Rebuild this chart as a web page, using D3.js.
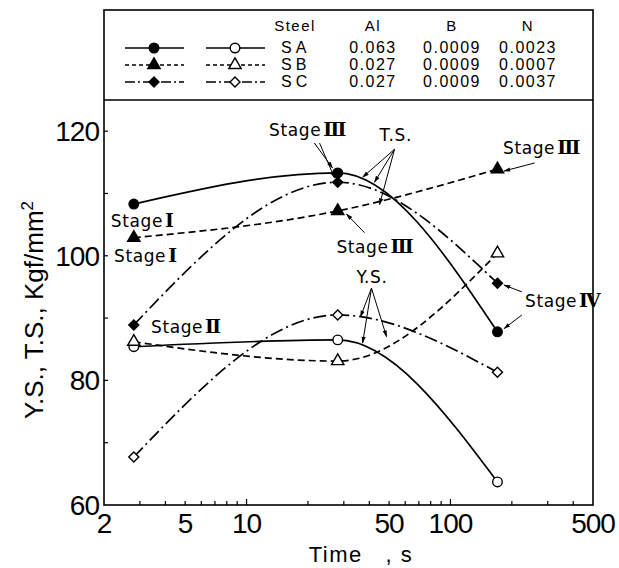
<!DOCTYPE html>
<html>
<head>
<meta charset="utf-8">
<script src="https://cdn.jsdelivr.net/npm/d3@7"></script>
<style>
  body { margin: 0; background: #fff; }
  svg { display: block; }
</style>
</head>
<body>
<div id="chart"></div>
<script>
// data
var times = [2.8, 28, 170];
var steels = ["SA", "SB", "SC"];
var alPct = [0.063, 0.027, 0.027];
var bPct = [0.0009, 0.0009, 0.0009];
var nPct = [0.0023, 0.0007, 0.0037];
var tsSA = [108.3, 113.3, 87.8];
var tsSB = [102.9, 107.2, 113.9];
var tsSC = [88.9, 111.8, 95.6];
var ysSA = [85.4, 86.5, 63.7];
var ysSB = [86.2, 83.1, 100.4];
var ysSC = [67.7, 90.5, 81.3];
var xTickLabels = [2, 5, 10, 50, 100, 500];
var xMinorTicks = [3, 4, 5, 6, 7, 8, 9, 10, 20, 30, 40, 50, 60, 70, 80, 90, 100, 200, 300, 400];
var yTickLabels = [60, 80, 100, 120];
var yMinorTicks = [70, 80, 90, 100, 110, 120];

// annotations, in data units (time, value)
var labels = [
  {text: "Stage", num: "Ⅲ", t: 12.9, v: 119.2},
  {text: "T.S.", num: "", t: 44.9, v: 118.5},
  {text: "Stage", num: "Ⅲ", t: 181, v: 116.3},
  {text: "Stage", num: "Ⅲ", t: 27.6, v: 100.4},
  {text: "Stage", num: "Ⅳ", t: 232, v: 91.8},
  {text: "Stage", num: "Ⅰ", t: 2.16, v: 104.6},
  {text: "Stage", num: "Ⅰ", t: 2.24, v: 99.0},
  {text: "Stage", num: "Ⅱ", t: 3.4, v: 87.6},
  {text: "Y.S.", num: "", t: 34.6, v: 95.6}
];
var arrows = [
  [21.5, 118.1, 26.4, 114.1],
  [22.8, 118.1, 27.0, 112.5],
  [53.2, 117.1, 37.1, 112.6],
  [53.2, 117.1, 42.4, 111.8],
  [53.2, 117.1, 44.9, 108.2],
  [259, 114.9, 183, 113.6],
  [37.9, 103.7, 30.9, 106.7],
  [224, 94.2, 183, 95.3],
  [224, 90.5, 183, 88.3],
  [41, 94.8, 36.2, 90.2],
  [41, 94.8, 37.1, 86.0],
  [41, 94.8, 48.6, 87.0]
];

var W = 619, H = 568;
var pLeft = 104, pRight = 593, pTop = 100, pBottom = 505, boxTop = 10;

var svg = d3.select("#chart").append("svg")
    .attr("width", W)
    .attr("height", H);

var x = d3.scaleLog().domain([2, 500]).range([pLeft, pRight]);
var y = d3.scaleLinear().domain([60, 125]).range([pBottom, pTop]);

var dashes = {solid: null, dash: "7,4", dashdot: "13,4,2,4"};
var series = [
  {v: tsSA, dash: "solid", sym: "circle", fill: "#000"},
  {v: tsSB, dash: "dash", sym: "triangle", fill: "#000"},
  {v: tsSC, dash: "dashdot", sym: "diamond", fill: "#000"},
  {v: ysSA, dash: "solid", sym: "circle", fill: "#fff"},
  {v: ysSB, dash: "dash", sym: "triangle", fill: "#fff"},
  {v: ysSC, dash: "dashdot", sym: "diamond", fill: "#fff"}
];

function symbolPath(name) {
  if (name == "circle") return d3.symbol().type(d3.symbolCircle).size(72)();
  if (name == "triangle") return d3.symbol().type(d3.symbolTriangle).size(66)();
  return d3.symbol().type(d3.symbolSquare).size(50)();
}
function symbolRot(name) { return name == "diamond" ? " rotate(45)" : ""; }

svg.append("defs").append("marker")
    .attr("id", "head")
    .attr("viewBox", "0 0 10 10")
    .attr("refX", 9).attr("refY", 5)
    .attr("markerWidth", 7).attr("markerHeight", 7)
    .attr("orient", "auto")
  .append("path")
    .attr("d", "M0,2L10,5L0,8Z")
    .attr("fill", "#000");

// frame: legend box + plot box
svg.append("rect")
    .attr("x", pLeft).attr("y", boxTop)
    .attr("width", pRight - pLeft).attr("height", pBottom - boxTop)
    .attr("fill", "none").attr("stroke", "#000").attr("stroke-width", 1.6);
svg.append("line")
    .attr("x1", pLeft).attr("x2", pRight).attr("y1", pTop).attr("y2", pTop)
    .attr("stroke", "#000").attr("stroke-width", 1.6);

// ticks, pointing inward
svg.selectAll(".xt").data(xMinorTicks).enter().append("line")
    .attr("x1", function(d) { return x(d); }).attr("x2", function(d) { return x(d); })
    .attr("y1", pBottom).attr("y2", function(d) { return (d == 10 || d == 100) ? pBottom - 6 : pBottom - 4; })
    .attr("stroke", "#000").attr("stroke-width", 1.2);
svg.selectAll(".yt").data(yMinorTicks).enter().append("line")
    .attr("x1", pLeft).attr("x2", pLeft + 4)
    .attr("y1", function(d) { return y(d); }).attr("y2", function(d) { return y(d); })
    .attr("stroke", "#000").attr("stroke-width", 1.2);

svg.selectAll(".xl").data(xTickLabels).enter().append("text")
    .attr("x", function(d) { return x(d); })
    .attr("y", 533)
    .attr("text-anchor", "middle")
    .attr("font-family", "Liberation Sans, sans-serif")
    .attr("font-size", "28px")
    .attr("letter-spacing", "-1px")
    .text(function(d) { return d; });
svg.selectAll(".yl").data(yTickLabels).enter().append("text")
    .attr("x", pLeft - 5)
    .attr("y", function(d) { return y(d) + 10; })
    .attr("text-anchor", "end")
    .attr("font-family", "Liberation Sans, sans-serif")
    .attr("font-size", "28px")
    .attr("letter-spacing", "-1px")
    .text(function(d) { return d; });

// axis titles
svg.append("text")
    .attr("x", 361).attr("y", 562)
    .attr("text-anchor", "middle")
    .attr("font-family", "Liberation Sans, sans-serif")
    .attr("font-size", "22px")
    .attr("letter-spacing", "1.5px")
    .attr("xml:space", "preserve")
    .text("Time   , s");
var yt = svg.append("text")
    .attr("transform", "translate(43,310) rotate(-90)")
    .attr("text-anchor", "middle")
    .attr("font-family", "Liberation Sans, sans-serif")
    .attr("font-size", "26px");
yt.append("tspan").text("Y.S., T.S., Kgf/mm");
yt.append("tspan").attr("dy", -10).attr("font-size", "17px").text("2");

// curves
var line = d3.line()
    .x(function(d, i) { return x(times[i]); })
    .y(function(d) { return y(d); })
    .curve(d3.curveMonotoneX);

svg.selectAll(".curve").data(series).enter().append("path")
    .attr("d", function(s) { return line(s.v); })
    .attr("fill", "none")
    .attr("stroke", "#000")
    .attr("stroke-width", 1.7)
    .attr("stroke-dasharray", function(s) { return dashes[s.dash]; });

series.forEach(function(s) {
  svg.selectAll(null).data(s.v).enter().append("path")
      .attr("d", symbolPath(s.sym))
      .attr("transform", function(d, i) {
        return "translate(" + x(times[i]) + "," + y(d) + ")" + symbolRot(s.sym);
      })
      .attr("fill", s.fill)
      .attr("stroke", "#000")
      .attr("stroke-width", 1.4);
});

// annotations
svg.selectAll(".arrow").data(arrows).enter().append("line")
    .attr("x1", function(d) { return x(d[0]); })
    .attr("y1", function(d) { return y(d[1]); })
    .attr("x2", function(d) { return x(d[2]); })
    .attr("y2", function(d) { return y(d[3]); })
    .attr("stroke", "#000").attr("stroke-width", 1)
    .attr("marker-end", "url(#head)");

var lab = svg.selectAll(".lab").data(labels).enter().append("text")
    .attr("x", function(d) { return x(d.t); })
    .attr("y", function(d) { return y(d.v); })
    .attr("font-family", "DejaVu Sans, sans-serif")
    .attr("font-size", "17px")
    .attr("letter-spacing", "0.6px");
lab.append("tspan").text(function(d) { return d.text; });
lab.append("tspan")
    .attr("font-weight", "bold")
    .attr("font-family", "DejaVu Serif, serif")
    .attr("font-size", "19px")
    .attr("dx", 2)
    .text(function(d) { return d.num; });

// legend
var legFont = "Liberation Sans, sans-serif";
var colX = {steel: 295, al: 373, b: 452, n: 528};
var rowY = [53, 70, 87];
var headers = [["Steel", colX.steel], ["Al", colX.al], ["B", colX.b], ["N", colX.n]];
svg.selectAll(".hd").data(headers).enter().append("text")
    .attr("x", function(d) { return d[1]; })
    .attr("y", 31)
    .attr("text-anchor", "middle")
    .attr("font-family", legFont)
    .attr("font-size", "15px")
    .attr("letter-spacing", "1.5px")
    .text(function(d) { return d[0]; });

var fmt3 = d3.format(".3f"), fmt4 = d3.format(".4f");
steels.forEach(function(name, i) {
  var ly = rowY[i];
  var g = svg.append("g");
  g.append("text").attr("x", 281).attr("y", ly)
      .attr("font-family", legFont).attr("font-size", "16px")
      .attr("letter-spacing", "4px").text(name);
  [[fmt3(alPct[i]), colX.al], [fmt4(bPct[i]), colX.b], [fmt4(nPct[i]), colX.n]].forEach(function(c) {
    g.append("text").attr("x", c[1]).attr("y", ly)
        .attr("text-anchor", "middle")
        .attr("font-family", legFont).attr("font-size", "16px")
        .attr("letter-spacing", "1.5px").text(c[0]);
  });
  var filled = series[i], open = series[i + 3];
  var cy = ly - 5;
  [[125, 184, 154, filled], [206, 265, 235, open]].forEach(function(p) {
    g.append("line").attr("x1", p[0]).attr("x2", p[1]).attr("y1", cy).attr("y2", cy)
        .attr("stroke", "#000").attr("stroke-width", 1.6)
        .attr("stroke-dasharray", p[3].dash == "dash" ? "4,3" : (p[3].dash == "dashdot" ? "10,3,2,3" : null));
    g.append("path").attr("d", symbolPath(p[3].sym))
        .attr("transform", "translate(" + p[2] + "," + cy + ")" + symbolRot(p[3].sym))
        .attr("fill", p[3].fill).attr("stroke", "#000").attr("stroke-width", 1.4);
  });
});
</script>
</body>
</html>
